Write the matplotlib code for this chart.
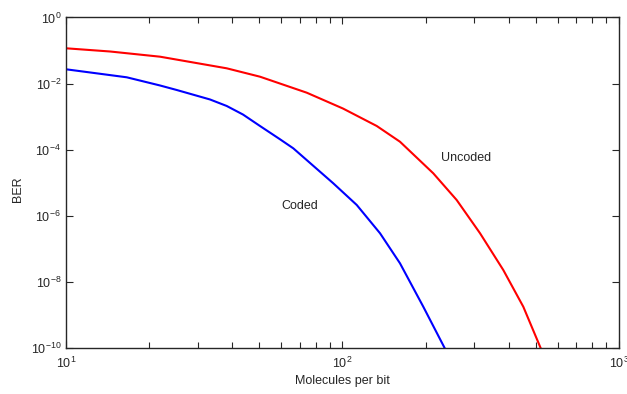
import numpy as np
import matplotlib.pyplot as plt
from matplotlib.ticker import LogLocator, NullLocator, NullFormatter

# BER versus number of molecules per bit
uncoded_n = [10, 14.43, 21.88, 38.13, 50.3, 74.25, 100.4, 133.0, 161.4, 213.0,
             258.8, 314.4, 381.6, 450.8, 520.2]
uncoded_ber = [0.1168, 0.0934, 0.065, 0.0289, 0.01611, 5.28e-3, 1.75e-3, 5.18e-4,
               1.73e-4, 1.91e-5, 2.97e-6, 2.92e-7, 2.25e-8, 1.74e-9, 1.0e-10]
coded_n = [10, 16.58, 21.88, 25.15, 33.18, 38.13, 43.67, 50.3, 59.43, 66.39,
           92.6, 112.6, 136.7, 161.4, 196.0, 233.8]
coded_ber = [0.027, 0.01545, 8.73e-3, 6.37e-3, 3.29e-3, 2.09e-3, 1.15e-3, 5.18e-4,
             2.05e-4, 1.09e-4, 9.52e-6, 2.1e-6, 2.92e-7, 3.6e-8, 1.74e-9, 1.0e-10]

plt.rcParams['font.family'] = ['Liberation Sans', 'DejaVu Sans']
plt.rcParams['mathtext.fontset'] = 'custom'
plt.rcParams['mathtext.rm'] = 'Liberation Sans'
plt.rcParams['mathtext.it'] = 'Liberation Sans:italic'
plt.rcParams['mathtext.bf'] = 'Liberation Sans:bold'
plt.rcParams['axes.unicode_minus'] = False

txt = '#262626'

fig = plt.figure(figsize=(6.27, 3.94), dpi=100)
ax = fig.add_axes([0.1053, 0.1175, 0.8819, 0.8381])

ax.loglog(uncoded_n, uncoded_ber, color='#ff0000', lw=1.5)
ax.loglog(coded_n, coded_ber, color='#0000ff', lw=1.5)

ax.set_xlim(10, 1000)
ax.set_ylim(1e-10, 1)

ax.set_yticks([10.0 ** k for k in range(-10, 1, 2)])
ax.yaxis.set_minor_locator(NullLocator())
ax.xaxis.set_minor_locator(LogLocator(base=10, subs=np.arange(2, 10), numticks=20))
ax.xaxis.set_minor_formatter(NullFormatter())

ax.tick_params(which='both', direction='in', top=True, right=True,
               labelsize=9, colors=txt, width=0.8)
ax.tick_params(which='major', length=5)
ax.tick_params(which='minor', length=4)
ax.tick_params(axis='x', pad=6)
for s in ax.spines.values():
    s.set_color(txt)
    s.set_linewidth(1.0)

ax.text(280, 10 ** -4.255, 'Uncoded', fontsize=9, ha='center', va='center', color=txt)
ax.text(70.2, 10 ** -5.71, 'Coded', fontsize=9, ha='center', va='center', color=txt)

ax.set_xlabel('Molecules per bit', fontsize=9, color=txt)
ax.set_ylabel('BER', fontsize=9, color=txt)
ax.xaxis.set_label_coords(0.5, -0.083)
ax.yaxis.set_label_coords(-0.076, 0.48)

fig.savefig('out.png', dpi=100)
